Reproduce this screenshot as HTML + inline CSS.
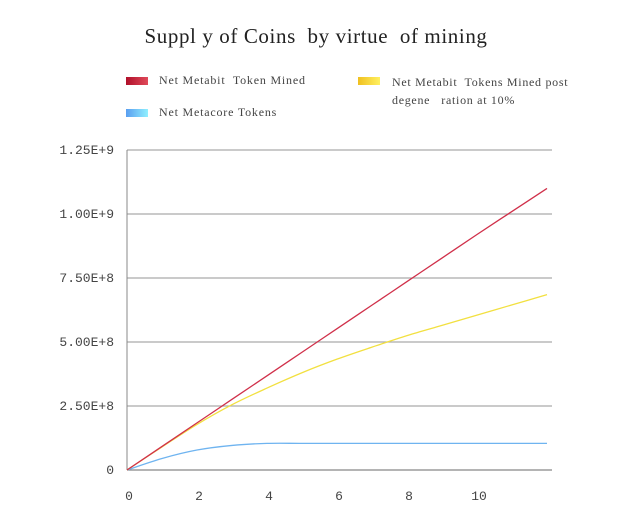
<!DOCTYPE html>
<html><head><meta charset="utf-8"><style>
body{margin:0;background:#fff;width:640px;height:516px;overflow:hidden;font-family:"Liberation Serif",serif}
.t{position:absolute;white-space:pre}
</style></head><body>
<div class="t" style="left:0;width:632px;text-align:center;top:24px;font-size:21px;color:#222;letter-spacing:0.6px">Suppl y of Coins  by virtue  of mining</div>
<div>
<div><div style="position:absolute;left:126px;top:77px;width:22px;height:8px;background:linear-gradient(90deg,#b0102a,#e04a5a)"></div><div class="t" style="left:159px;top:73px;font-size:12px;color:#444;letter-spacing:0.8px">Net Metabit  Token Mined</div></div>
<div><div style="position:absolute;left:358px;top:77px;width:22px;height:8px;background:linear-gradient(90deg,#f0c020,#fff060)"></div><div class="t" style="left:392px;top:73px;font-size:12px;color:#444;line-height:18px;letter-spacing:0.7px">Net Metabit  Tokens Mined post
degene   ration at 10%</div></div>
<div><div style="position:absolute;left:126px;top:109px;width:22px;height:8px;background:linear-gradient(90deg,#5a9ef0,#90f0ff)"></div><div class="t" style="left:159px;top:105px;font-size:12px;color:#444;letter-spacing:0.8px">Net Metacore Tokens</div></div>
</div>
<svg id="chart" width="640" height="516" style="position:absolute;left:0;top:0" font-family="Liberation Mono, monospace" font-size="13" fill="#444"></svg>
<script>
const yTicks=[0,2.5e8,5e8,7.5e8,1e9,1.25e9];
const yTickLabels=["0","2.50E+8","5.00E+8","7.50E+8","1.00E+9","1.25E+9"];
const xTicks=[0,2,4,6,8,10];
const xVals=[0,1,2,3,4,5,6,7,8,9,10,11,12];
const redVals=[0,9.2e7,1.84e8,2.76e8,3.68e8,4.6e8,5.52e8,6.44e8,7.36e8,8.28e8,9.2e8,1.01e9,1.1e9];
const yellowVals=[0,9e7,1.78e8,2.55e8,3.2e8,3.8e8,4.33e8,4.8e8,5.25e8,5.65e8,6.05e8,6.45e8,6.85e8];
const blueVals=[0,4.5e7,7.8e7,9.6e7,1.04e8,1.04e8,1.04e8,1.04e8,1.04e8,1.04e8,1.04e8,1.04e8,1.04e8];
const svg=document.getElementById('chart');const NS='http://www.w3.org/2000/svg';
const X0=127,XS=35,Y0=470,YS=320/1.25e9;
const sx=v=>X0+v*XS, sy=v=>Y0-v*YS;
function mk(t,a){const e=document.createElementNS(NS,t);for(const k in a)e.setAttribute(k,a[k]);svg.appendChild(e);return e;}
yTicks.forEach((v,i)=>{
 const l=mk('line',{x1:X0,x2:552,y1:sy(v),y2:sy(v),stroke:i==0?'#888':'#aaa','stroke-width':1.2});
 
 
 const t=mk('text',{x:X0-13,y:sy(v)+4,'text-anchor':'end'});t.textContent=yTickLabels[i];
 
 
});
const ax=mk('line',{x1:X0,x2:X0,y1:150,y2:470,stroke:'#888'});


xTicks.forEach(v=>{const t=mk('text',{x:sx(v)+2,y:500,'text-anchor':'middle'});t.textContent=v;
 
 });
function line(vals,color,name){
 const pts=vals.map((v,i)=>[sx(xVals[i]),sy(v)]);
 let d='M'+pts[0][0]+','+pts[0][1];
 for(let i=0;i<pts.length-1;i++){
  const p0=pts[Math.max(0,i-1)],p1=pts[i],p2=pts[i+1],p3=pts[Math.min(pts.length-1,i+2)];
  const c1=[p1[0]+(p2[0]-p0[0])/6,p1[1]+(p2[1]-p0[1])/6],c2=[p2[0]-(p3[0]-p1[0])/6,p2[1]-(p3[1]-p1[1])/6];
  d+=' C'+c1.join(',')+' '+c2.join(',')+' '+p2.join(',');
 }
 const p=mk('path',{d:d,fill:'none',stroke:color,'stroke-width':1.3});
 
 
}
line(blueVals,'#6fb4f0','series-net-metacore');
line(yellowVals,'#f2e040','series-metabit-degeneration');
line(redVals,'#d0304a','series-net-metabit');
</script>
</body></html>
